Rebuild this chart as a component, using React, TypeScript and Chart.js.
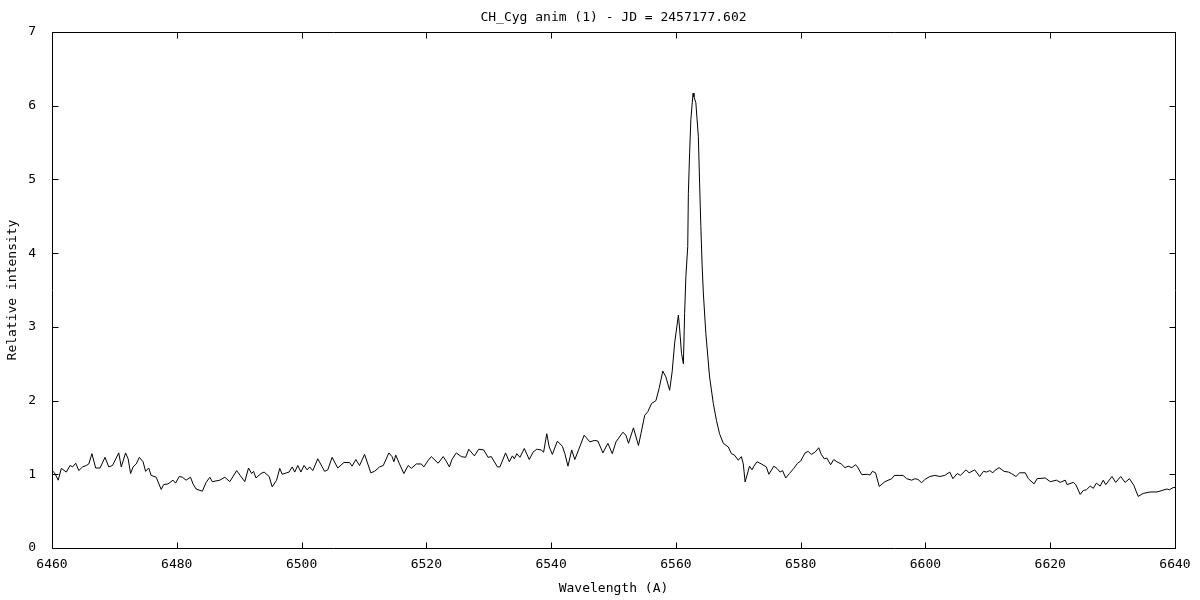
import React, { useEffect, useRef } from "react";
import { Chart, registerables } from "chart.js";

Chart.register(...registerables);

const titleText = "CH_Cyg anim (1) - JD = 2457177.602";
const xAxisLabel = "Wavelength (A)";
const yAxisLabel = "Relative intensity";

const xTickStep = 20;
const xMin = 6460;
const xMax = 6640;
const yMin = 0;
const yMax = 7;

const wavelengths = [
  6460.0, 6460.4, 6461.0, 6461.5, 6462.3, 6462.9, 6463.3, 6463.8, 6464.3, 6464.9,
  6465.5, 6465.9, 6466.4, 6467.0, 6467.7, 6468.5, 6469.1, 6469.7, 6470.7, 6471.1,
  6471.8, 6472.2, 6472.6, 6473.0, 6473.5, 6474.0, 6474.6, 6475.0, 6475.5, 6475.9,
  6476.7, 6477.5, 6477.9, 6478.6, 6479.4, 6479.8, 6480.4, 6480.9, 6481.5, 6482.2,
  6482.6, 6483.1, 6484.1, 6484.7, 6485.3, 6485.7, 6486.9, 6487.7, 6488.5, 6489.6,
  6490.2, 6490.9, 6491.5, 6492.0, 6492.3, 6492.7, 6493.5, 6494.0, 6494.8, 6495.3,
  6496.0, 6496.5, 6496.9, 6497.6, 6498.0, 6498.5, 6498.9, 6499.4, 6499.9, 6500.4,
  6500.9, 6501.3, 6501.8, 6502.6, 6503.7, 6504.2, 6504.9, 6505.8, 6506.8, 6507.7,
  6508.1, 6508.7, 6509.3, 6510.1, 6511.1, 6511.7, 6512.5, 6513.1, 6514.0, 6514.5,
  6514.8, 6515.1, 6515.7, 6516.4, 6517.1, 6517.6, 6518.4, 6519.2, 6519.6, 6520.3,
  6520.8, 6521.9, 6522.7, 6523.1, 6523.7, 6524.1, 6524.8, 6525.6, 6526.3, 6526.8,
  6527.7, 6528.4, 6529.2, 6529.9, 6530.4, 6531.4, 6531.8, 6532.7, 6533.3, 6533.8,
  6534.1, 6534.5, 6535.0, 6535.7, 6536.5, 6537.1, 6537.7, 6538.4, 6538.8, 6539.3,
  6539.7, 6540.2, 6541.0, 6541.8, 6542.2, 6542.7, 6543.3, 6543.8, 6544.4, 6545.3,
  6546.2, 6547.0, 6547.5, 6548.3, 6549.1, 6549.8, 6550.4, 6551.5, 6552.0, 6552.4,
  6553.2, 6554.0, 6554.4, 6555.0, 6555.5, 6556.1, 6556.8, 6557.3, 6557.9, 6558.4,
  6559.0, 6559.4, 6559.8, 6560.4, 6560.6, 6560.9, 6561.2, 6561.4, 6561.6, 6561.9,
  6562.0, 6562.2, 6562.4, 6562.75, 6562.9, 6563.2, 6563.6, 6563.8, 6564.0, 6564.2,
  6564.4, 6564.8, 6565.4, 6566.0, 6566.5, 6567.0, 6567.6, 6568.4, 6568.9,
  6569.4, 6570.0, 6570.5, 6570.8, 6571.1,
  6571.8, 6572.2, 6572.5, 6573.0, 6573.7, 6574.5, 6574.9, 6575.7, 6576.2, 6576.7,
  6577.1, 6577.6, 6578.2, 6578.9, 6579.5, 6580.0, 6580.7, 6581.2, 6581.7, 6582.3,
  6582.9, 6583.3, 6583.8, 6584.2, 6584.8, 6585.3, 6585.8, 6586.5, 6587.1, 6587.6,
  6588.2, 6588.8, 6589.1, 6589.8, 6590.7, 6591.1, 6591.5, 6592.0, 6592.6, 6593.5,
  6594.6, 6595.0, 6596.4, 6597.0, 6597.8, 6598.3, 6598.8, 6599.4, 6599.9, 6600.7,
  6601.5, 6602.3, 6603.1, 6603.9, 6604.4, 6605.1, 6605.6, 6606.5, 6607.0, 6607.9,
  6608.7, 6609.3, 6609.8, 6610.3, 6610.8, 6611.1, 6611.8, 6612.6, 6613.3, 6613.8,
  6614.5, 6615.1, 6616.0, 6616.5, 6617.4, 6617.9, 6619.2, 6620.0, 6621.0, 6621.6,
  6622.4, 6622.7, 6623.7, 6624.1, 6624.8, 6625.3, 6625.8, 6626.4, 6626.9, 6627.4,
  6628.0, 6628.5, 6628.9, 6629.9, 6630.5, 6631.3, 6632.0, 6632.7, 6633.4, 6634.1,
  6634.9, 6636.0, 6637.1, 6637.9, 6638.7, 6639.1, 6639.7, 6640.0,
];

const intensities = [
  1.05, 1.02, 0.92, 1.08, 1.03, 1.12, 1.10, 1.15, 1.05, 1.10,
  1.12, 1.14, 1.28, 1.085, 1.085, 1.23, 1.10, 1.12, 1.29, 1.10,
  1.29, 1.21, 1.01, 1.10, 1.14, 1.23, 1.17, 1.04, 1.085, 0.985,
  0.96, 0.795, 0.86, 0.87, 0.92, 0.88, 0.97, 0.96, 0.92, 0.96,
  0.87, 0.80, 0.77, 0.89, 0.96, 0.90, 0.92, 0.96, 0.90, 1.05,
  0.98, 0.90, 1.085, 1.01, 1.04, 0.95, 1.01, 1.03, 0.97, 0.83,
  0.92, 1.08, 1.00, 1.02, 1.03, 1.10, 1.03, 1.12, 1.03, 1.12,
  1.06, 1.10, 1.05, 1.21, 1.04, 1.06, 1.23, 1.085, 1.16, 1.16,
  1.11, 1.20, 1.12, 1.27, 1.02, 1.04, 1.10, 1.12, 1.29, 1.24,
  1.17, 1.26, 1.14, 1.01, 1.12, 1.08, 1.14, 1.14, 1.10, 1.19,
  1.24, 1.15, 1.24, 1.19, 1.10, 1.20, 1.29, 1.24, 1.23, 1.34,
  1.25, 1.34, 1.33, 1.23, 1.24, 1.10, 1.10, 1.29, 1.17, 1.25,
  1.21, 1.28, 1.23, 1.35, 1.20, 1.30, 1.34, 1.33, 1.30, 1.55,
  1.37, 1.27, 1.45, 1.38, 1.28, 1.11, 1.33, 1.20, 1.33, 1.53,
  1.44, 1.46, 1.45, 1.29, 1.42, 1.28, 1.44, 1.57, 1.53, 1.42,
  1.63, 1.39, 1.55, 1.80, 1.85, 1.96, 2.00, 2.16, 2.40, 2.32,
  2.14, 2.39, 2.78, 3.16, 2.97, 2.64, 2.50, 3.18, 3.68, 4.09,
  4.81, 5.36, 5.81, 6.17, 6.12, 6.04, 5.58, 4.95, 4.36, 3.85,
  3.46, 2.91, 2.32, 1.96, 1.73, 1.55, 1.42, 1.37, 1.28,
  1.26, 1.19, 1.24, 1.14, 0.895,
  1.11, 1.06, 1.11, 1.17, 1.14, 1.10, 1.00, 1.11, 1.08, 1.03,
  1.05, 0.95, 1.01, 1.08, 1.15, 1.18, 1.29, 1.31, 1.27, 1.30,
  1.36, 1.27, 1.21, 1.22, 1.13, 1.20, 1.17, 1.14, 1.09, 1.11,
  1.09, 1.13, 1.10, 0.995, 1.00, 0.99, 1.04, 1.02, 0.835, 0.90,
  0.94, 0.985, 0.985, 0.94, 0.92, 0.94, 0.93, 0.885, 0.93, 0.97,
  0.985, 0.97, 0.985, 1.03, 0.94, 1.01, 0.985, 1.06, 1.02, 1.06,
  0.97, 1.04, 1.03, 1.05, 1.02, 1.05, 1.09, 1.04, 1.03, 1.01,
  0.97, 1.02, 1.02, 0.94, 0.87, 0.94, 0.95, 0.90, 0.92, 0.89,
  0.92, 0.86, 0.89, 0.86, 0.727, 0.78, 0.79, 0.84, 0.81, 0.88,
  0.84, 0.92, 0.86, 0.97, 0.89, 0.97, 0.89, 0.94, 0.85, 0.70,
  0.74, 0.76, 0.76, 0.78, 0.80, 0.79, 0.82, 0.82,
];

const FONT = "'DejaVu Sans Mono', 'Liberation Mono', monospace";

const framePlugin = {
  id: "gnuplotFrame",
  afterDraw(chart: any) {
    const { ctx, chartArea } = chart;
    const { left, right, top, bottom } = chartArea;
    const xs = chart.scales.x;
    const ys = chart.scales.y;
    ctx.save();
    ctx.strokeStyle = "#000";
    ctx.lineWidth = 1;
    ctx.beginPath();
    ctx.rect(left + 0.5, top + 0.5, right - left, bottom - top);
    ctx.stroke();
    const tl = 6;
    ctx.beginPath();
    xs.ticks.forEach((t: any) => {
      const px = Math.round(xs.getPixelForValue(t.value)) + 0.5;
      ctx.moveTo(px, bottom + 0.5);
      ctx.lineTo(px, bottom + 0.5 - tl);
      ctx.moveTo(px, top + 0.5);
      ctx.lineTo(px, top + 0.5 + tl);
    });
    ys.ticks.forEach((t: any) => {
      const py = Math.round(ys.getPixelForValue(t.value)) + 0.5;
      ctx.moveTo(left + 0.5, py);
      ctx.lineTo(left + 0.5 + tl, py);
      ctx.moveTo(right + 0.5, py);
      ctx.lineTo(right + 0.5 - tl, py);
    });
    ctx.stroke();

    ctx.fillStyle = "#000";
    ctx.font = `13px ${FONT}`;
    ctx.textAlign = "center";
    ctx.textBaseline = "middle";
    const cx = (left + right) / 2;
    ctx.fillText(titleText, cx, 18);
    ctx.fillText(xAxisLabel, cx, 589);
    ctx.translate(13, (top + bottom) / 2);
    ctx.rotate(-Math.PI / 2);
    ctx.fillText(yAxisLabel, 0, 0);
    ctx.restore();
  },
};

export default function App() {
  const canvasRef = useRef<HTMLCanvasElement | null>(null);

  useEffect(() => {
    document.body.style.margin = "0";
    const canvas = canvasRef.current;
    if (!canvas) return;
    const points = wavelengths.map((w, i) => ({ x: w, y: intensities[i] }));
    const chart = new Chart(canvas, {
      type: "line",
      data: {
        datasets: [
          {
            data: points,
            borderColor: "#000",
            borderWidth: 1,
            pointRadius: 0,
            tension: 0,
            fill: false,
          },
        ],
      },
      options: {
        animation: false,
        responsive: false,
        maintainAspectRatio: false,
        layout: { padding: { top: 32, right: 25, left: 0, bottom: 0 } },
        plugins: {
          legend: { display: false },
          title: { display: false },
          tooltip: { enabled: false },
        },
        scales: {
          x: {
            type: "linear",
            min: xMin,
            max: xMax,
            grid: { display: false },
            border: { display: false },
            ticks: {
              stepSize: xTickStep,
              color: "#000",
              font: { family: FONT, size: 13 },
              padding: 1,
              maxRotation: 0,
              autoSkip: false,
              callback: (v: any) => String(v),
            },
            afterFit: (scale: any) => {
              scale.height = 52;
            },
          },
          y: {
            type: "linear",
            min: yMin,
            max: yMax,
            grid: { display: false },
            border: { display: false },
            ticks: {
              stepSize: 1,
              color: "#000",
              font: { family: FONT, size: 13 },
              padding: 8,
              callback: (v: any) => String(v),
            },
            afterFit: (scale: any) => {
              scale.width = 52;
            },
          },
        },
      },
      plugins: [framePlugin],
    });
    return () => chart.destroy();
  }, []);

  return (
    <div style={{ width: 1200, height: 600 }}>
      <canvas ref={canvasRef} width={1200} height={600} style={{ display: "block" }} />
    </div>
  );
}
